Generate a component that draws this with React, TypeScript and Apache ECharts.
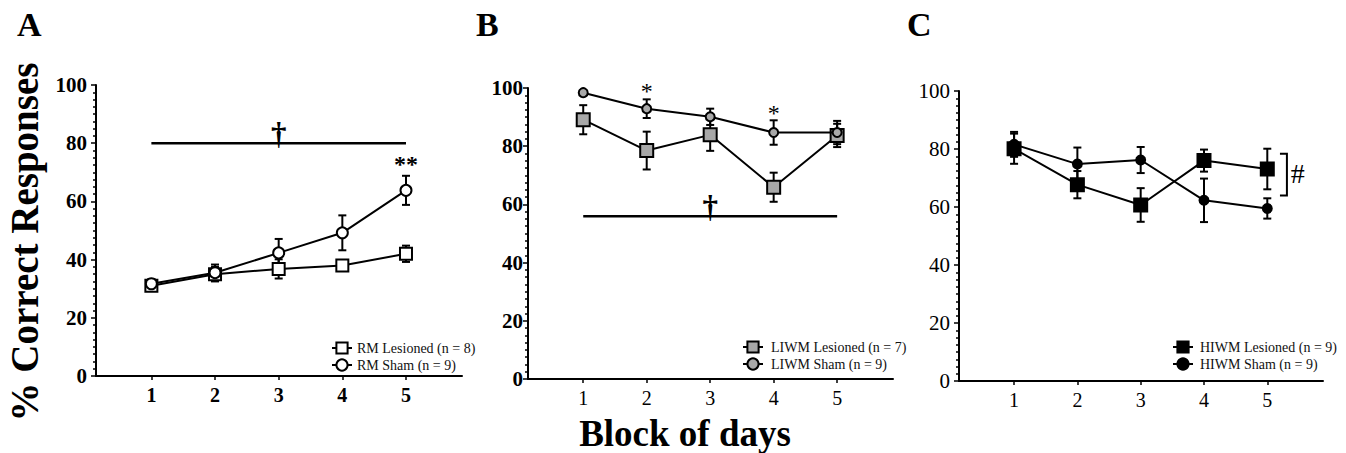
import React, { useEffect, useRef } from "react";
import * as echarts from "echarts";

const days = [1, 2, 3, 4, 5];
const yTicks = [0, 20, 40, 60, 80, 100];

// Panel A: RM
const rmLesioned = [31, 35, 36.8, 38, 42];
const rmLesionedErr = [1.5, 2.5, 3.3, 1.5, 2.8];
const rmSham = [31.7, 35.5, 42.3, 49.2, 63.8];
const rmShamErr = [1.5, 2.8, 4.8, 6, 5];

// Panel B: LIWM
const liwmLesioned = [89.1, 78.5, 83.9, 65.9, 83.7];
const liwmLesionedErr = [5, 6.5, 5.5, 5, 4];
const liwmSham = [98.4, 92.9, 90.1, 84.7, 84.7];
const liwmShamErr = [0.8, 3.2, 2.8, 4.2, 4];

// Panel C: HIWM
const hiwmLesioned = [80.1, 67.7, 60.7, 76, 73.1];
const hiwmLesionedErr = [5.2, 4.7, 5.8, 3.8, 7];
const hiwmSham = [81.6, 74.8, 76.2, 62.3, 59.5];
const hiwmShamErr = [4.3, 5.7, 4.5, 7.5, 3.5];

// significance markers
const sigLineA = [[1, 80], [5, 80]];
const sigLineB = [[1, 55.9], [5, 55.9]];
const annotA = [{ x: 3, y: 83.4, t: "\u2020", bold: true, size: 31 }, { x: 5, y: 73, t: "**", bold: true, size: 24 }];
const annotB = [
  { x: 3, y: 59.3, t: "\u2020", bold: true, size: 31 },
  { x: 2, y: 99, t: "*", bold: false, size: 24 },
  { x: 4, y: 91.5, t: "*", bold: false, size: 24 },
];
const bracketC = [[5.2, 78.4], [5.31, 78.4], [5.31, 64], [5.2, 64]];
const annotC = [{ x: 5.48, y: 71.5, t: "#", bold: false, size: 28 }];

const SERIF = "'Liberation Serif', 'Times New Roman', serif";

const pairs = (ys: number[]) => days.map((d, i) => [d, ys[i]]);
const errData = (ys: number[], es: number[]) => days.map((d, i) => [d, ys[i] - es[i], ys[i] + es[i]]);

const errorRender = (params: any, api: any) => {
  const x = api.value(0);
  const lo = api.coord([x, api.value(1)]);
  const hi = api.coord([x, api.value(2)]);
  const cap = 4;
  const style = { stroke: "#000", lineWidth: 2 };
  return {
    type: "group",
    children: [
      { type: "line", shape: { x1: lo[0], y1: lo[1], x2: hi[0], y2: hi[1] }, style },
      { type: "line", shape: { x1: lo[0] - cap, y1: lo[1], x2: lo[0] + cap, y2: lo[1] }, style },
      { type: "line", shape: { x1: hi[0] - cap, y1: hi[1], x2: hi[0] + cap, y2: hi[1] }, style },
    ],
  };
};

const errSeries = (idx: number, ys: number[], es: number[]) => ({
  type: "custom",
  xAxisIndex: idx,
  yAxisIndex: idx,
  z: 1,
  silent: true,
  encode: { x: 0, y: [1, 2] },
  data: errData(ys, es),
  renderItem: errorRender,
});

const annotSeries = (idx: number, items: any[]) => ({
  type: "custom",
  xAxisIndex: idx,
  yAxisIndex: idx,
  z: 5,
  silent: true,
  encode: { x: 0, y: 1 },
  data: items.map((a) => [a.x, a.y]),
  renderItem: (params: any, api: any) => {
    const a = items[params.dataIndex];
    const p = api.coord([api.value(0), api.value(1)]);
    return {
      type: "text",
      x: p[0],
      y: p[1],
      style: {
        text: a.t,
        fill: "#000",
        font: `${a.bold ? "bold " : ""}${a.size}px ${SERIF}`,
        textAlign: "center",
        textVerticalAlign: "middle",
      },
    };
  },
});

const sigLine = (idx: number, pts: number[][]) => ({
  type: "line",
  xAxisIndex: idx,
  yAxisIndex: idx,
  z: 2,
  silent: true,
  symbol: "none",
  data: pts,
  lineStyle: { color: "#000", width: 2.5 },
});

const lineSeries = (idx: number, name: string, ys: number[], symbol: string, size: number, fill: string, z: number) => ({
  type: "line",
  name,
  xAxisIndex: idx,
  yAxisIndex: idx,
  z,
  data: pairs(ys),
  symbol,
  symbolSize: size,
  showAllSymbol: true,
  lineStyle: { color: "#000", width: 2 },
  itemStyle: { color: fill, borderColor: "#000", borderWidth: 2 },
});

const xAxisFor = (gridIndex: number, bold: boolean) => ({
  type: "value",
  gridIndex,
  min: 0.13,
  max: 5.88,
  axisLine: { show: true, onZero: false, lineStyle: { color: "#000", width: 2 } },
  axisTick: { show: true, customValues: days, length: 4, lineStyle: { color: "#000", width: 1.5 } },
  axisLabel: {
    customValues: days,
    fontFamily: SERIF,
    fontSize: 20,
    fontWeight: bold ? "bold" : "normal",
    color: "#000",
    margin: 9,
  },
  splitLine: { show: false },
});

const yAxisFor = (gridIndex: number, bold: boolean, margin: number) => ({
  type: "value",
  gridIndex,
  min: yTicks[0],
  max: yTicks[yTicks.length - 1],
  interval: 20,
  axisLine: { show: true, onZero: false, lineStyle: { color: "#000", width: 2 } },
  axisTick: { show: true, length: 5, lineStyle: { color: "#000", width: 1.5 } },
  minorTick: { show: true, splitNumber: 8, length: 3, lineStyle: { color: "#000", width: 1.5 } },
  axisLabel: {
    fontFamily: SERIF,
    fontSize: 21,
    fontWeight: bold ? "bold" : "normal",
    color: "#000",
    margin,
  },
  splitLine: { show: false },
  minorSplitLine: { show: false },
});

const legendFor = (names: string[], left: number, top: number, gap: number) => ({
  data: names,
  orient: "vertical",
  left,
  top,
  itemWidth: 20,
  itemHeight: 14,
  itemGap: 3,
  padding: 0,
  selectedMode: false,
  textStyle: { fontFamily: SERIF, fontSize: 14, color: "#111", padding: [0, 0, 0, gap] },
});

export default function App() {
  const ref = useRef<HTMLDivElement>(null);
  useEffect(() => {
    if (!ref.current) return;
    const chart = echarts.init(ref.current, null, { renderer: "svg" });
    const option: any = {
      animation: false,
      backgroundColor: "#fff",
      grid: [
        { left: 96, top: 85, width: 366, height: 291 },
        { left: 528, top: 88, width: 365, height: 291 },
        { left: 959, top: 91, width: 364, height: 290 },
      ],
      xAxis: [xAxisFor(0, true), xAxisFor(1, false), xAxisFor(2, false)],
      yAxis: [yAxisFor(0, true, 9), yAxisFor(1, true, 5), yAxisFor(2, false, 9)],
      legend: [
        legendFor(["RM Lesioned (n = 8)", "RM Sham (n = 9)"], 331, 341, 0),
        legendFor(["LIWM Lesioned (n = 7)", "LIWM Sham (n = 9)"], 742, 340, 3),
        legendFor(["HIWM Lesioned (n = 9)", "HIWM Sham (n = 9)"], 1172, 340, 2),
      ],
      graphic: [
        { type: "text", left: 17, top: 7, style: { text: "A", font: `bold 34px ${SERIF}`, fill: "#000" } },
        { type: "text", left: 476, top: 7, style: { text: "B", font: `bold 34px ${SERIF}`, fill: "#000" } },
        { type: "text", left: 907, top: 7, style: { text: "C", font: `bold 34px ${SERIF}`, fill: "#000" } },
        {
          type: "text",
          x: 24,
          y: 242,
          rotation: Math.PI / 2,
          style: {
            text: "% Correct Responses",
            font: `bold 39px ${SERIF}`,
            fill: "#000",
            textAlign: "center",
            textVerticalAlign: "middle",
          },
        },
        {
          type: "text",
          x: 685,
          y: 433,
          style: {
            text: "Block of days",
            font: `bold 37px ${SERIF}`,
            fill: "#000",
            textAlign: "center",
            textVerticalAlign: "middle",
          },
        },
      ],
      series: [
        errSeries(0, rmLesioned, rmLesionedErr),
        errSeries(0, rmSham, rmShamErr),
        sigLine(0, sigLineA),
        lineSeries(0, "RM Lesioned (n = 8)", rmLesioned, "rect", 12, "#fff", 3),
        lineSeries(0, "RM Sham (n = 9)", rmSham, "circle", 11, "#fff", 4),
        annotSeries(0, annotA),

        errSeries(1, liwmLesioned, liwmLesionedErr),
        errSeries(1, liwmSham, liwmShamErr),
        sigLine(1, sigLineB),
        lineSeries(1, "LIWM Lesioned (n = 7)", liwmLesioned, "rect", 13, "#a8a8a8", 3),
        lineSeries(1, "LIWM Sham (n = 9)", liwmSham, "circle", 9, "#a8a8a8", 4),
        annotSeries(1, annotB),

        errSeries(2, hiwmLesioned, hiwmLesionedErr),
        errSeries(2, hiwmSham, hiwmShamErr),
        lineSeries(2, "HIWM Lesioned (n = 9)", hiwmLesioned, "rect", 13, "#000", 3),
        lineSeries(2, "HIWM Sham (n = 9)", hiwmSham, "circle", 9, "#000", 4),
        {
          type: "custom",
          xAxisIndex: 2,
          yAxisIndex: 2,
          z: 5,
          silent: true,
          encode: { x: 0, y: 1 },
          data: bracketC,
          renderItem: (params: any, api: any) => {
            if (params.dataIndex !== 0) return null;
            const pts = bracketC.map((p) => api.coord(p));
            return { type: "polyline", shape: { points: pts }, style: { stroke: "#000", lineWidth: 2, fill: "none" } };
          },
        },
        annotSeries(2, annotC),
      ],
    };
    chart.setOption(option);
    return () => chart.dispose();
  }, []);
  return (
    <div
      ref={ref}
      style={{ position: "fixed", left: 0, top: 0, width: 1346, height: 453, background: "#fff" }}
    />
  );
}
